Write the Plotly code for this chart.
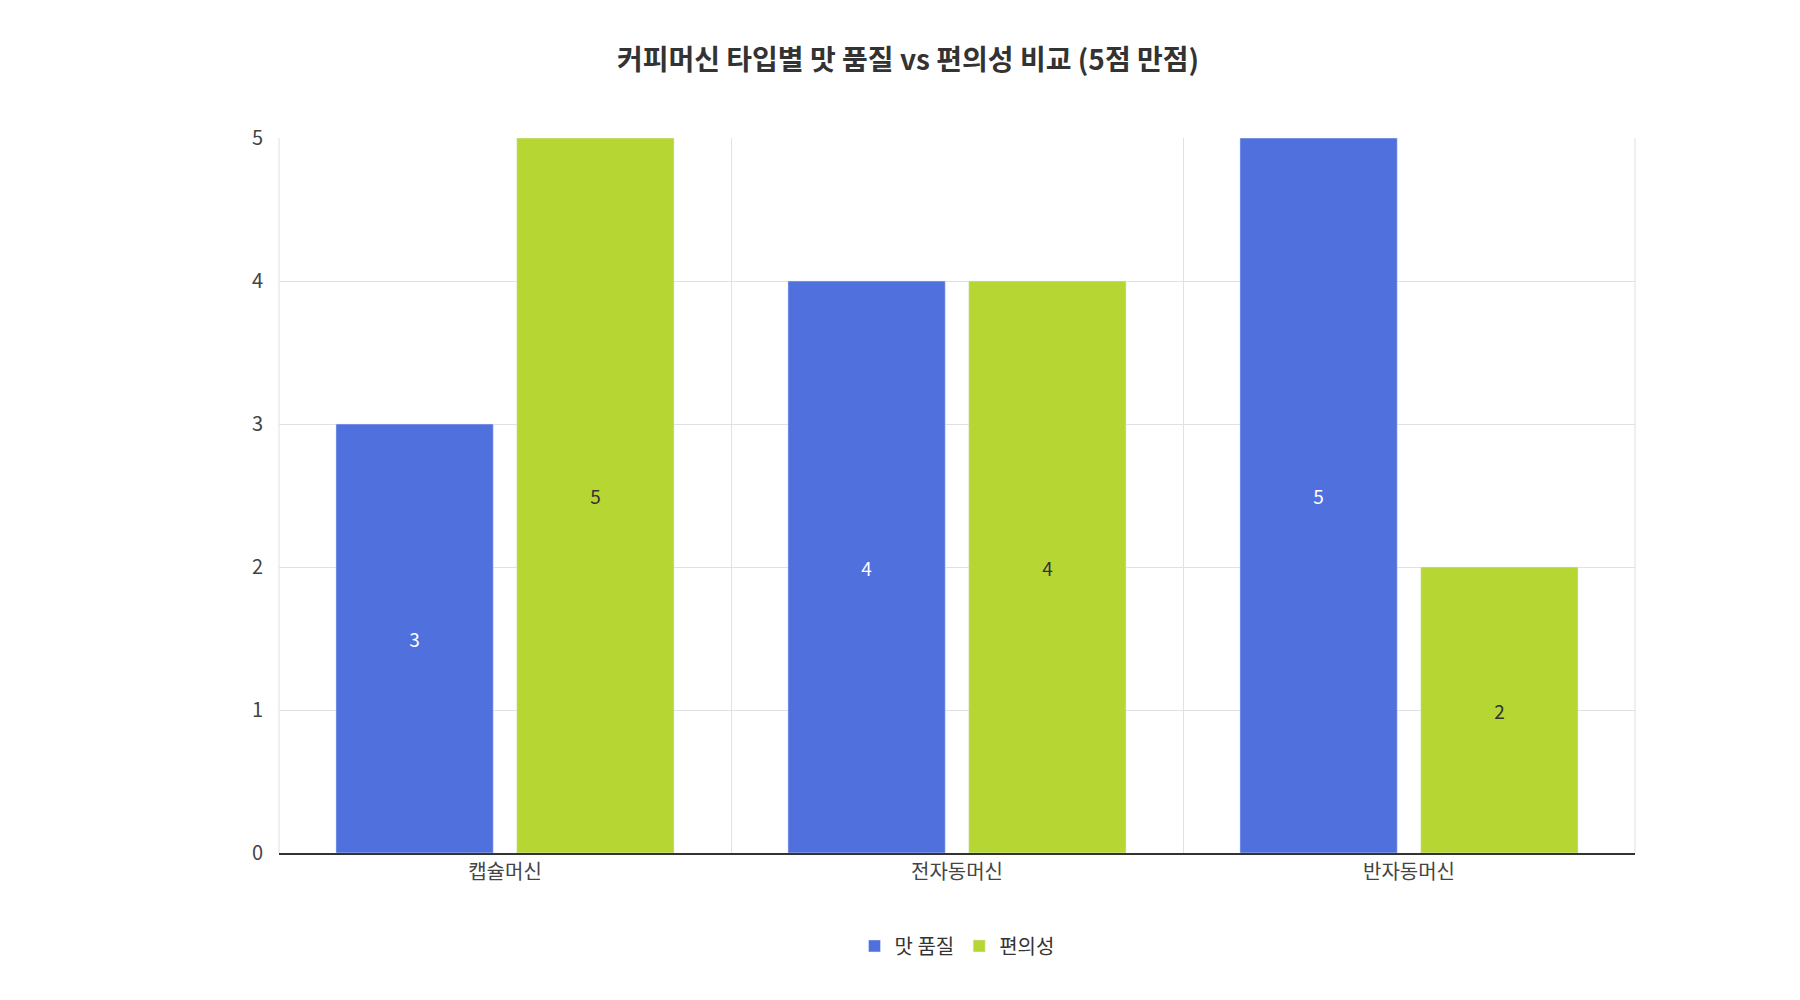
import plotly.graph_objects as go

categories = ["캡슐머신", "전자동머신", "반자동머신"]
taste = [3, 4, 5]
convenience = [5, 4, 2]

FONT = "Noto Sans CJK KR"

fig = go.Figure()
fig.add_trace(go.Bar(
    name="맛 품질", x=categories, y=taste, text=taste,
    textposition="inside", insidetextanchor="middle",
    marker_color="#5070dd",
    textfont=dict(color="white", size=19, family=FONT)))
fig.add_trace(go.Bar(
    name="편의성", x=categories, y=convenience, text=convenience,
    textposition="inside", insidetextanchor="middle",
    marker_color="#b6d634",
    textfont=dict(color="#333333", size=19, family=FONT)))

fig.update_layout(
    width=1800, height=1000,
    paper_bgcolor="white", plot_bgcolor="white",
    font=dict(family=FONT, color="#444444", size=19),
    title=dict(text="<b>커피머신 타입별 맛 품질 vs 편의성 비교 (5점 만점)</b>",
               x=0.5, y=0.948, xanchor="center", yanchor="middle",
               font=dict(size=28, color="#333333")),
    barmode="group", bargap=0.2, bargroupgap=0.13,
    margin=dict(l=271, r=173, t=130, b=155),
    uniformtext=dict(mode="show", minsize=10),
    legend=dict(orientation="h", x=0.5, xanchor="center", y=-0.13,
                yanchor="middle", font=dict(size=20, color="#333333")),
)
fig.update_xaxes(showgrid=True, gridcolor="#e0e0e6", tickson="boundaries",
                 ticks="", showline=True, linecolor="#333333", linewidth=1.5,
                 mirror=False, tickfont=dict(size=20, color="#444444"))
fig.update_yaxes(range=[0, 5], dtick=1, showgrid=True, gridcolor="#e0e0e6",
                 zeroline=False, ticks="", ticklabelstandoff=15,
                 tickfont=dict(size=20, color="#444444"))
# right border like the reference
fig.add_shape(type="line", xref="paper", yref="paper", x0=1, x1=1, y0=0, y1=1,
              line=dict(color="#e0e0e6", width=1))
fig.add_shape(type="line", xref="paper", yref="paper", x0=0, x1=0, y0=0, y1=1,
              line=dict(color="#e0e0e6", width=1))

fig.write_html("out.html")
